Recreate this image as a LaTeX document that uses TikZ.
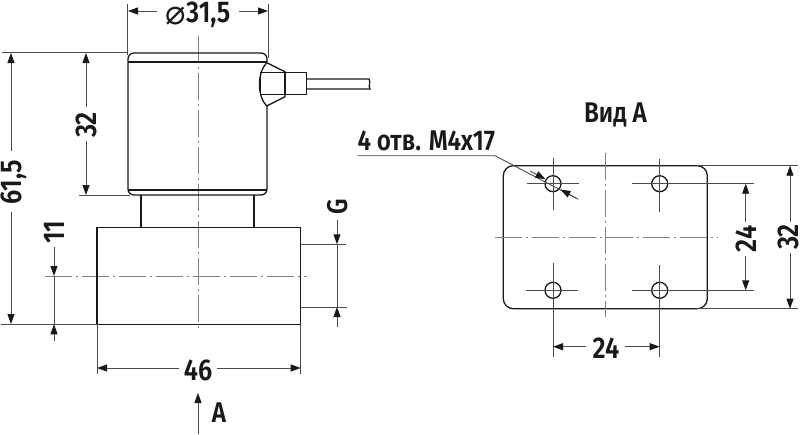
\documentclass[tikz,border=0pt]{standalone}
\usepackage{fontspec}
\setmainfont{Fira Sans}[FakeStretch=0.85,UprightFont=* SemiBold]
\newfontfamily\symfont{DejaVu Sans}
\usetikzlibrary{arrows.meta}
\tikzset{
  outline/.style={line width=1.3pt,black!90},
  thinline/.style={line width=0.8pt,black!70},
  dimline/.style={line width=0.9pt,black!70},
  centerline/.style={line width=0.9pt,black!50,dash pattern=on 27pt off 4pt on 2pt off 4pt},
  tip/.style={-{Stealth[length=10pt,width=7pt,inset=0pt,color=black!90]}},
  dimtext/.style={font=\fontsize{30}{30}\selectfont,inner sep=0pt,black!90},
  smalltext/.style={font=\fontsize{28.5}{28.5}\selectfont,inner sep=0pt,black!90},
}
\begin{document}
\begin{tikzpicture}[x=1pt,y=-1pt]
\useasboundingbox (0,0) rectangle (800,434);

% side view
\draw[centerline] (198,36) -- (198,332);
\draw[centerline] (45,276) -- (307,276);
\draw[outline,rounded corners=6pt] (267,62) -- (267,53) -- (128,53) -- (128,195) -- (267,195) -- (267,106);
\draw[outline] (128,62) -- (267,62);
\draw[outline] (128,190) -- (267,190);
\draw[outline] (141,195) -- (141,227.7);
\draw[outline] (254,195) -- (254,227.7);
\draw[outline] (97,227.7) rectangle (300.7,324.3);

% connector
\draw[outline,fill=white] (266.7,62.7) -- (285,71.7) -- (285,96.7) -- (266.7,106) .. controls (257,96) and (257,73) .. cycle;
\draw[outline] (260.5,72.7) rectangle (285,94.3);
\draw[outline] (285,72.7) rectangle (306.7,94.3);
\draw[outline] (306.7,79) -- (369,79) .. controls (371,82) and (368,86) .. (370,89) -- (306.7,89);

% extension lines
\draw[thinline] (127.5,4) -- (127.5,55);
\draw[thinline] (268,4) -- (268,58);
\draw[thinline] (2,52.5) -- (128,52.5);
\draw[thinline] (79,195.5) -- (130,195.5);
\draw[thinline] (1,324.3) -- (97,324.3);
\draw[thinline] (97,324.3) -- (97,374);
\draw[thinline] (300.7,324.3) -- (300.7,374);
\draw[thinline] (301,244.3) -- (346,244.3);
\draw[thinline] (301,307) -- (347,307);

% dimensions, side view
\node[dimtext,anchor=base] (dia) at (198,22.5) {\raisebox{-1.5pt}{\symfont\fontsize{34}{34}\selectfont ⌀}31,5};
\draw[dimline,tip] (157,11) -- (128,11);
\draw[dimline,tip] (239,11) -- (268,11);
\node[dimtext,rotate=90,anchor=base] (total) at (21.5,182) {61,5};
\draw[dimline,tip] (11,151) -- (11,53);
\draw[dimline,tip] (11,212) -- (11,324);
\node[dimtext,rotate=90] (coil) at (86,125) {32};
\draw[dimline,tip] (86,107) -- (86,53);
\draw[dimline,tip] (86,141) -- (86,195);
\node[dimtext,rotate=90] (elev) at (54,232) {11};
\draw[dimline,tip] (54,247) -- (54,276);
\draw[dimline] (54,276) -- (54,324);
\draw[dimline,tip] (54,341) -- (54,324.3);
\node[dimtext] (width) at (198,370) {46};
\draw[dimline,tip] (179,368) -- (97,368);
\draw[dimline,tip] (217,368) -- (300.7,368);
\node[smalltext,rotate=90] (port) at (338,207) {G};
\draw[dimline,tip] (337,220) -- (337,244.3);
\draw[dimline] (337,244.3) -- (337,307);
\draw[dimline,tip] (337,327) -- (337,307);
\draw[dimline,tip] (198,434) -- (198,393);
\node[smalltext] (viewa) at (219,413) {А};

% view A
\node[smalltext] (title) at (615.5,115) {Вид А};
\node[smalltext,anchor=base west] (holes) at (357.3,150) {4 отв. М4х17};
\draw[outline,rounded corners=10pt] (503.3,165.7) rectangle (707.3,308.7);
\draw[centerline] (605.3,153) -- (605.3,316.7);
\draw[centerline] (495,237.3) -- (718,237.3);
\draw[outline] (553,183.7) circle (8);
\draw[outline] (659.7,183.7) circle (8);
\draw[outline] (553,290.3) circle (8);
\draw[outline] (659.7,290.3) circle (8);
\draw[thinline] (526.7,183.7) -- (579,183.7);
\draw[thinline] (553,158) -- (553,210);
\draw[thinline] (632,183.7) -- (754,183.7);
\draw[thinline] (659.7,159) -- (659.7,212);
\draw[thinline] (525.7,290.3) -- (577.7,290.3);
\draw[thinline] (553,263) -- (553,356.7);
\draw[thinline] (632,290.3) -- (754,290.3);
\draw[thinline] (659.7,265) -- (659.7,356.7);
\draw[thinline] (697,165.7) -- (798,165.7);
\draw[thinline] (697,308.7) -- (798,308.7);

% dimensions, view A
\draw[dimline] (357.3,155.7) -- (495,155.7) -- (578.3,199.3);
\draw[dimline,tip] (530,171) -- (545.5,179.2);
\draw[dimline,tip] (576,198) -- (560.5,189.5);
\node[dimtext,rotate=90] (inner) at (746,239) {24};
\draw[dimline,tip] (745.7,221.7) -- (745.7,183.7);
\draw[dimline,tip] (745.7,256) -- (745.7,290.3);
\node[dimtext,rotate=90] (outer) at (788,237) {32};
\draw[dimline,tip] (790,221.7) -- (790,165.7);
\draw[dimline,tip] (790,253) -- (790,308.7);
\node[dimtext] (pitch) at (606,348) {24};
\draw[dimline,tip] (586,346.7) -- (553,346.7);
\draw[dimline,tip] (625,346.7) -- (659.7,346.7);
\end{tikzpicture}
\end{document}
